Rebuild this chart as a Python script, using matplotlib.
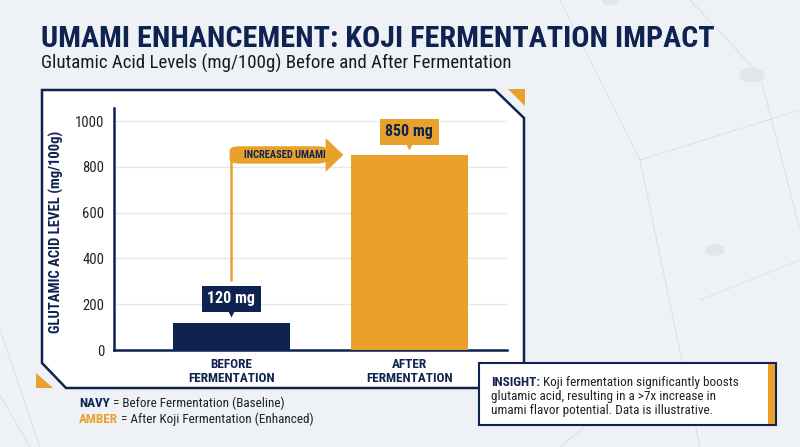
import numpy as np
import matplotlib
matplotlib.use("Agg")
import matplotlib.pyplot as plt
from matplotlib import font_manager
from matplotlib.patches import Polygon, FancyBboxPatch, Rectangle
from matplotlib.lines import Line2D
import matplotlib.transforms as mtransforms

# datos
categorias = ["BEFORE\nFERMENTATION", "AFTER\nFERMENTATION"]
valores = [120, 850]
etiquetas = ["120 mg", "850 mg"]
ticks_y = [0, 200, 400, 600, 800, 1000]

NAVY = "#0f2350"
AMBER = "#e9a12b"
FONDO = "#eef1f5"
TEXTO = "#222222"
W, H = 800, 447

# fuente estrecha si existe
instaladas = {f.name for f in font_manager.fontManager.ttflist}
candidatas = ["Liberation Sans Narrow", "DejaVu Sans Condensed", "Roboto Condensed",
              "Open Sans Condensed", "Noto Sans Condensed", "Roboto", "Liberation Sans"]
fuente = next((c for c in candidatas if c in instaladas), "DejaVu Sans")
plt.rcParams["font.family"] = [fuente, "DejaVu Sans"]

fig = plt.figure(figsize=(8, 4.47), dpi=100, facecolor=FONDO)
renderer = fig.canvas.get_renderer()


# pixel (desde arriba) -> fraccion de figura
def px(x, y):
    return (x / W, 1 - y / H)


def ancho(t):
    return t.get_window_extent(renderer=renderer).width


def texto(x, y, s, size, max_w=None, ajustar=False, **kw):
    t = fig.text(x / W, 1 - y / H, s, fontsize=size, va="baseline", **kw)
    if max_w is not None:
        w = ancho(t)
        if w > max_w or ajustar:
            t.set_fontsize(size * max_w / w)
    return t


def cadena(x, y, partes, size, max_w):
    # textos seguidos en la misma linea
    ts = []
    for s, kw in partes:
        t = fig.text(x / W, 1 - y / H, s, fontsize=size, va="baseline", **kw)
        ts.append(t)
    total = sum(ancho(t) for t in ts)
    if total > max_w:
        size = size * max_w / total
        for t in ts:
            t.set_fontsize(size)
    cx = x
    for t in ts:
        t.set_x(cx / W)
        cx += ancho(t)
    return ts


# fondo de red tenue
for (x0, y0, x1, y1) in [(560, 0, 640, 160), (640, 160, 800, 110), (640, 160, 700, 447),
                         (690, 0, 760, 75), (760, 75, 800, 230), (700, 300, 800, 260),
                         (0, 330, 40, 447), (0, 395, 30, 447), (560, 447, 640, 380)]:
    fig.add_artist(Line2D([x0 / W, x1 / W], [1 - y0 / H, 1 - y1 / H],
                          color="#dde1e7", lw=0.8, zorder=0))
for (cx, cy, r) in [(752, 75, 12), (715, 250, 9), (610, 0, 8)]:
    fig.add_artist(plt.Circle(px(cx, cy), r / W, color="#e2e6eb", zorder=0,
                              transform=fig.transFigure))

# titulos
texto(41, 47, "UMAMI ENHANCEMENT: KOJI FERMENTATION IMPACT", 21, max_w=672, ajustar=True,
      fontweight="bold", color=NAVY)
texto(41, 69, "Glutamic Acid Levels (mg/100g) Before and After Fermentation", 12,
      max_w=469, ajustar=True, color="#1a1a1a")

# panel blanco con esquinas cortadas
panel = [px(42, 90), px(495, 90), px(524, 118), px(524, 388), px(66, 388), px(42, 363)]
fig.add_artist(Polygon(panel, closed=True, facecolor="white", edgecolor=NAVY,
                       lw=1.8, transform=fig.transFigure, zorder=1))
fig.add_artist(Polygon([px(508, 89), px(525, 89), px(525, 106)], closed=True,
                       facecolor=AMBER, edgecolor="none", transform=fig.transFigure, zorder=1))
fig.add_artist(Polygon([px(36, 373), px(36, 388), px(53, 388)], closed=True,
                       facecolor=AMBER, edgecolor="none", transform=fig.transFigure, zorder=1))

# ejes
ax = fig.add_axes([114 / W, 1 - 350 / H, 393 / W, 242 / H], zorder=2)
ax.set_facecolor("none")
x = np.arange(len(valores))
ax.bar(x, valores, width=0.66, color=[NAVY, AMBER], zorder=3)
ax.set_xlim(-0.66, 1.55)
ax.set_ylim(0, 1057)
ax.set_yticks(ticks_y)
ax.set_yticklabels([str(t) for t in ticks_y], fontsize=10.5, color=TEXTO)
ax.set_xticks(x)
ax.set_xticklabels(categorias, fontsize=9.5, fontweight="bold", color=NAVY, linespacing=1.05)
ax.tick_params(length=0, pad=7)
ax.tick_params(axis="x", pad=6)
ax.grid(axis="y", color="#e4e7eb", lw=1, zorder=0)
for s in ["top", "right"]:
    ax.spines[s].set_visible(False)
for s in ["left", "bottom"]:
    ax.spines[s].set_color(NAVY)
    ax.spines[s].set_linewidth(1.8)
ylab = ax.set_ylabel("GLUTAMIC ACID LEVEL (mg/100g)", fontsize=10.5, fontweight="bold",
                     color=NAVY)
ax.yaxis.set_label_coords(-(114 - 64) / 393, (350 - 232) / 242)
h = ylab.get_window_extent(renderer=renderer).height
if h > 207:
    ylab.set_fontsize(10.5 * 207 / h)

# etiquetas de valor con puntero
for xi, v, txt, col, tcol in zip(x, valores, etiquetas, [NAVY, AMBER], ["white", NAVY]):
    ax.annotate(txt, (xi, v), xytext=(0, 17), textcoords="offset points",
                ha="center", va="center", fontsize=11.5, fontweight="bold", color=tcol,
                bbox=dict(boxstyle="square,pad=0.35", fc=col, ec="none"), zorder=5)
    tr = mtransforms.offset_copy(ax.transData, fig=fig, x=0, y=7.5, units="points")
    ax.plot([xi], [v], marker="v", ms=7, color=col, mec="none", transform=tr, zorder=5)

# flecha "INCREASED UMAMI"
y_band = 852
band_h = 76
ax.plot([0, 0], [valores[0] + 180, y_band], color=AMBER, lw=1.8, zorder=4,
        solid_capstyle="butt")
ax.add_patch(FancyBboxPatch((-0.01, y_band - band_h / 2), 0.55, band_h,
                            boxstyle="round,pad=0,rounding_size=0.06",
                            mutation_aspect=300, fc=AMBER, ec="none", zorder=4))
ax.add_patch(Polygon([(0.53, y_band + 74), (0.63, y_band), (0.53, y_band - 74)],
                     closed=True, fc=AMBER, ec="none", zorder=4))
t_arr = ax.text(0.30, y_band, "INCREASED UMAMI", ha="center", va="center", fontsize=7.5,
                fontweight="bold", color=NAVY, zorder=5)
wa = ancho(t_arr)
if wa > 84:
    t_arr.set_fontsize(7.5 * 84 / wa)

# leyenda de texto
cadena(79, 407, [("NAVY", dict(fontweight="bold", color=NAVY)),
                 (" = Before Fermentation (Baseline)", dict(color=TEXTO))], 9.5, 214)
cadena(79, 423, [("AMBER", dict(fontweight="bold", color=AMBER)),
                 (" = After Koji Fermentation (Enhanced)", dict(color=TEXTO))], 9.5, 245)

# caja de insight
fig.add_artist(Rectangle(px(479, 425), 297 / W, 62 / H, transform=fig.transFigure,
                         fc="white", ec=NAVY, lw=1.5, zorder=6))
fig.add_artist(Rectangle(px(768, 424), 7 / W, 60 / H, transform=fig.transFigure,
                         fc=AMBER, ec="none", zorder=7))
cadena(491, 386, [("INSIGHT:", dict(fontweight="bold", color=NAVY, zorder=8)),
                  (" Koji fermentation significantly boosts", dict(color=TEXTO, zorder=8))],
       9.5, 265)
texto(491, 400, "glutamic acid, resulting in a >7x increase in", 9.5, max_w=247,
      color=TEXTO, zorder=8)
texto(491, 414, "umami flavor potential. Data is illustrative.", 9.5, max_w=246,
      color=TEXTO, zorder=8)

fig.savefig("out.png", dpi=100, facecolor=FONDO)
